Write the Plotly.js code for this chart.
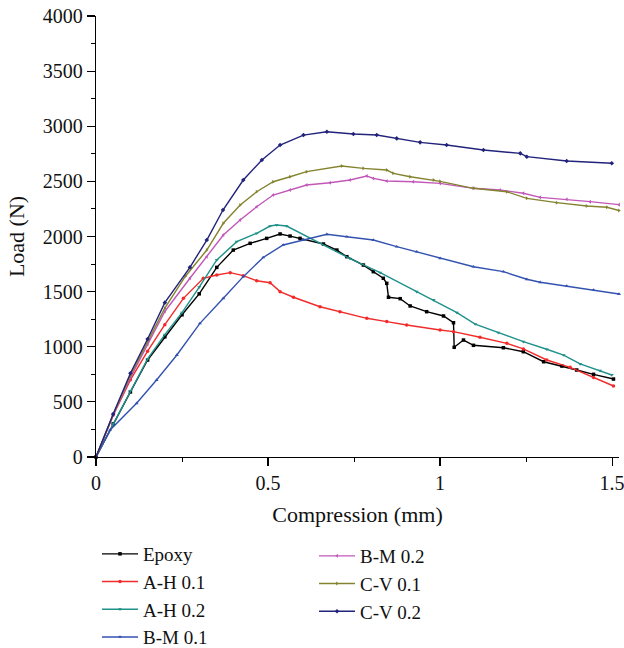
<!DOCTYPE html>
<html>
<head>
<meta charset="utf-8">
<script src="https://cdn.plot.ly/plotly-3.0.1.min.js"></script>
<style>html,body{margin:0;padding:0;background:#fff;}#chart{width:624px;height:648px;}</style>
</head>
<body>
<div id="chart"></div>
<script>
// Series names
const seriesNames = ["Epoxy", "A-H 0.1", "A-H 0.2", "B-M 0.1", "B-M 0.2", "C-V 0.1", "C-V 0.2"];

// Compression (mm) / Load (N) for each series
const epoxyX = [0, 0.05, 0.1, 0.15, 0.2, 0.25, 0.3, 0.351, 0.399, 0.448, 0.496, 0.535, 0.564, 0.593, 0.661, 0.700, 0.729, 0.777, 0.806, 0.835, 0.845, 0.850, 0.884, 0.913, 0.961, 1.010, 1.039, 1.041, 1.068, 1.097, 1.184, 1.242, 1.301, 1.354, 1.397, 1.446, 1.504];
const epoxyY = [0, 300, 590, 880, 1090, 1290, 1480, 1720, 1877, 1938, 1983, 2023, 2004, 1983, 1932, 1877, 1817, 1741, 1681, 1621, 1575, 1449, 1436, 1370, 1318, 1279, 1218, 995, 1061, 1013, 991, 955, 864, 825, 789, 750, 707];

const ah01X = [0, 0.05, 0.1, 0.15, 0.2, 0.254, 0.312, 0.351, 0.390, 0.428, 0.467, 0.506, 0.535, 0.574, 0.651, 0.709, 0.787, 0.845, 0.903, 1.0, 1.039, 1.116, 1.194, 1.242, 1.310, 1.378, 1.446, 1.504];
const ah01Y = [0, 380, 700, 960, 1200, 1439, 1621, 1651, 1672, 1645, 1599, 1581, 1500, 1449, 1363, 1318, 1258, 1228, 1197, 1152, 1137, 1086, 1031, 980, 880, 813, 720, 644];

const ah02X = [0, 0.05, 0.1, 0.15, 0.2, 0.25, 0.3, 0.351, 0.409, 0.467, 0.506, 0.525, 0.554, 0.738, 0.826, 0.932, 0.981, 1.049, 1.102, 1.169, 1.242, 1.310, 1.359, 1.407, 1.465, 1.499];
const ah02Y = [0, 300, 600, 890, 1110, 1310, 1540, 1787, 1953, 2029, 2095, 2104, 2095, 1800, 1672, 1499, 1424, 1309, 1206, 1128, 1046, 977, 925, 844, 783, 744];

const bm01X = [0, 0.041, 0.118, 0.176, 0.235, 0.302, 0.370, 0.428, 0.486, 0.544, 0.603, 0.671, 0.729, 0.806, 0.874, 0.932, 1.0, 1.097, 1.184, 1.252, 1.291, 1.368, 1.446, 1.52];
const bm01Y = [0, 245, 487, 698, 925, 1212, 1439, 1636, 1810, 1923, 1968, 2020, 1998, 1968, 1908, 1862, 1802, 1726, 1681, 1612, 1585, 1551, 1515, 1478];

const bm02X = [0, 0.05, 0.1, 0.15, 0.2, 0.273, 0.322, 0.370, 0.419, 0.467, 0.515, 0.564, 0.612, 0.680, 0.738, 0.787, 0.806, 0.845, 0.922, 1.0, 1.097, 1.174, 1.242, 1.291, 1.368, 1.436, 1.52];
const bm02Y = [0, 380, 720, 1020, 1320, 1621, 1817, 2014, 2150, 2270, 2376, 2422, 2467, 2488, 2512, 2549, 2527, 2503, 2497, 2482, 2437, 2422, 2392, 2355, 2337, 2316, 2289];

const cv01X = [0, 0.05, 0.1, 0.15, 0.2, 0.26, 0.322, 0.370, 0.419, 0.467, 0.515, 0.564, 0.612, 0.714, 0.777, 0.845, 0.864, 0.913, 0.981, 1.0, 1.097, 1.194, 1.252, 1.339, 1.426, 1.485, 1.52];
const cv01Y = [0, 385, 740, 1050, 1350, 1640, 1877, 2120, 2286, 2406, 2497, 2542, 2588, 2640, 2618, 2603, 2573, 2542, 2512, 2500, 2437, 2406, 2346, 2307, 2277, 2265, 2235];

const cv02X = [0, 0.05, 0.1, 0.15, 0.2, 0.273, 0.322, 0.369, 0.428, 0.482, 0.535, 0.603, 0.671, 0.748, 0.816, 0.874, 0.942, 1.019, 1.126, 1.233, 1.252, 1.368, 1.499];
const cv02Y = [0, 390, 760, 1070, 1400, 1720, 1968, 2240, 2512, 2694, 2830, 2920, 2950, 2930, 2920, 2890, 2854, 2830, 2784, 2754, 2724, 2685, 2664];

const xTickVals = [0, 0.5, 1, 1.5];
const xTickText = ["0", "0.5", "1", "1.5"];
const yTickVals = [0, 500, 1000, 1500, 2000, 2500, 3000, 3500, 4000];
const yTickText = ["0", "500", "1000", "1500", "2000", "2500", "3000", "3500", "4000"];

const xs = [epoxyX, ah01X, ah02X, bm01X, bm02X, cv01X, cv02X];
const ys = [epoxyY, ah01Y, ah02Y, bm01Y, bm02Y, cv01Y, cv02Y];
const colors = ["#000000", "#f22a2a", "#1f918b", "#3352b0", "#c257b8", "#838330", "#22237a"];
const symbols = ["square", "circle", "triangle-down", "triangle-up", "triangle-left", "triangle-right", "diamond"];
const legends = ["legend", "legend", "legend", "legend", "legend2", "legend2", "legend2"];

const FONT = "'Liberation Serif', 'DejaVu Serif', serif";

const traces = seriesNames.map((n, i) => ({
  type: "scatter",
  mode: "lines+markers",
  name: n,
  x: xs[i],
  y: ys[i],
  legend: legends[i],
  legendgroup: "g" + i,
  line: {color: colors[i], width: 1.4},
  marker: {color: colors[i], symbol: symbols[i], size: 3.5},
  cliponaxis: false
}));

const PW = 523, PH = 441;
const legendCommon = {
  xanchor: "left", yanchor: "top", xref: "paper", yref: "paper",
  bgcolor: "rgba(0,0,0,0)", borderwidth: 0,
  font: {family: FONT, size: 19, color: "#111"},
  tracegroupgap: 1, traceorder: "normal", itemwidth: 36
};

const layout = {
  width: 624,
  height: 648,
  margin: {l: 96, r: 5, t: 16, b: 191, autoexpand: false},
  paper_bgcolor: "#ffffff",
  plot_bgcolor: "#ffffff",
  font: {family: FONT, size: 19, color: "#111111"},
  showlegend: true,
  xaxis: {
    range: [0, 1.52],
    tickvals: xTickVals,
    ticktext: xTickText,
    ticklabeloverflow: "allow",
    showgrid: false,
    zeroline: false,
    showline: true,
    linecolor: "#000",
    linewidth: 1.3,
    ticks: "outside",
    ticklen: 8,
    tickwidth: 1.2,
    tickcolor: "#000",
    minor: {dtick: 0.25, tick0: 0, ticks: "outside", ticklen: 4, tickwidth: 1, tickcolor: "#000", showgrid: false},
    tickfont: {family: FONT, size: 20, color: "#111"},
    title: {text: "Compression (mm)", font: {family: FONT, size: 22, color: "#111"}, standoff: 13}
  },
  yaxis: {
    range: [0, 4000],
    tickvals: yTickVals,
    ticktext: yTickText,
    showgrid: false,
    zeroline: false,
    showline: true,
    linecolor: "#000",
    linewidth: 1.3,
    ticks: "outside",
    ticklen: 8,
    tickwidth: 1.2,
    tickcolor: "#000",
    minor: {dtick: 250, tick0: 0, ticks: "outside", ticklen: 4, tickwidth: 1, tickcolor: "#000", showgrid: false},
    tickfont: {family: FONT, size: 20, color: "#111"},
    title: {text: "Load (N)", font: {family: FONT, size: 22, color: "#111"}, standoff: 12}
  },
  legend: Object.assign({x: (97 - 96) / PW, y: (457 - 535) / PH}, legendCommon),
  legend2: Object.assign({x: (314 - 96) / PW, y: (457 - 537) / PH}, legendCommon)
};

Plotly.newPlot("chart", traces, layout, {displayModeBar: false, staticPlot: true});
</script>
</body>
</html>
